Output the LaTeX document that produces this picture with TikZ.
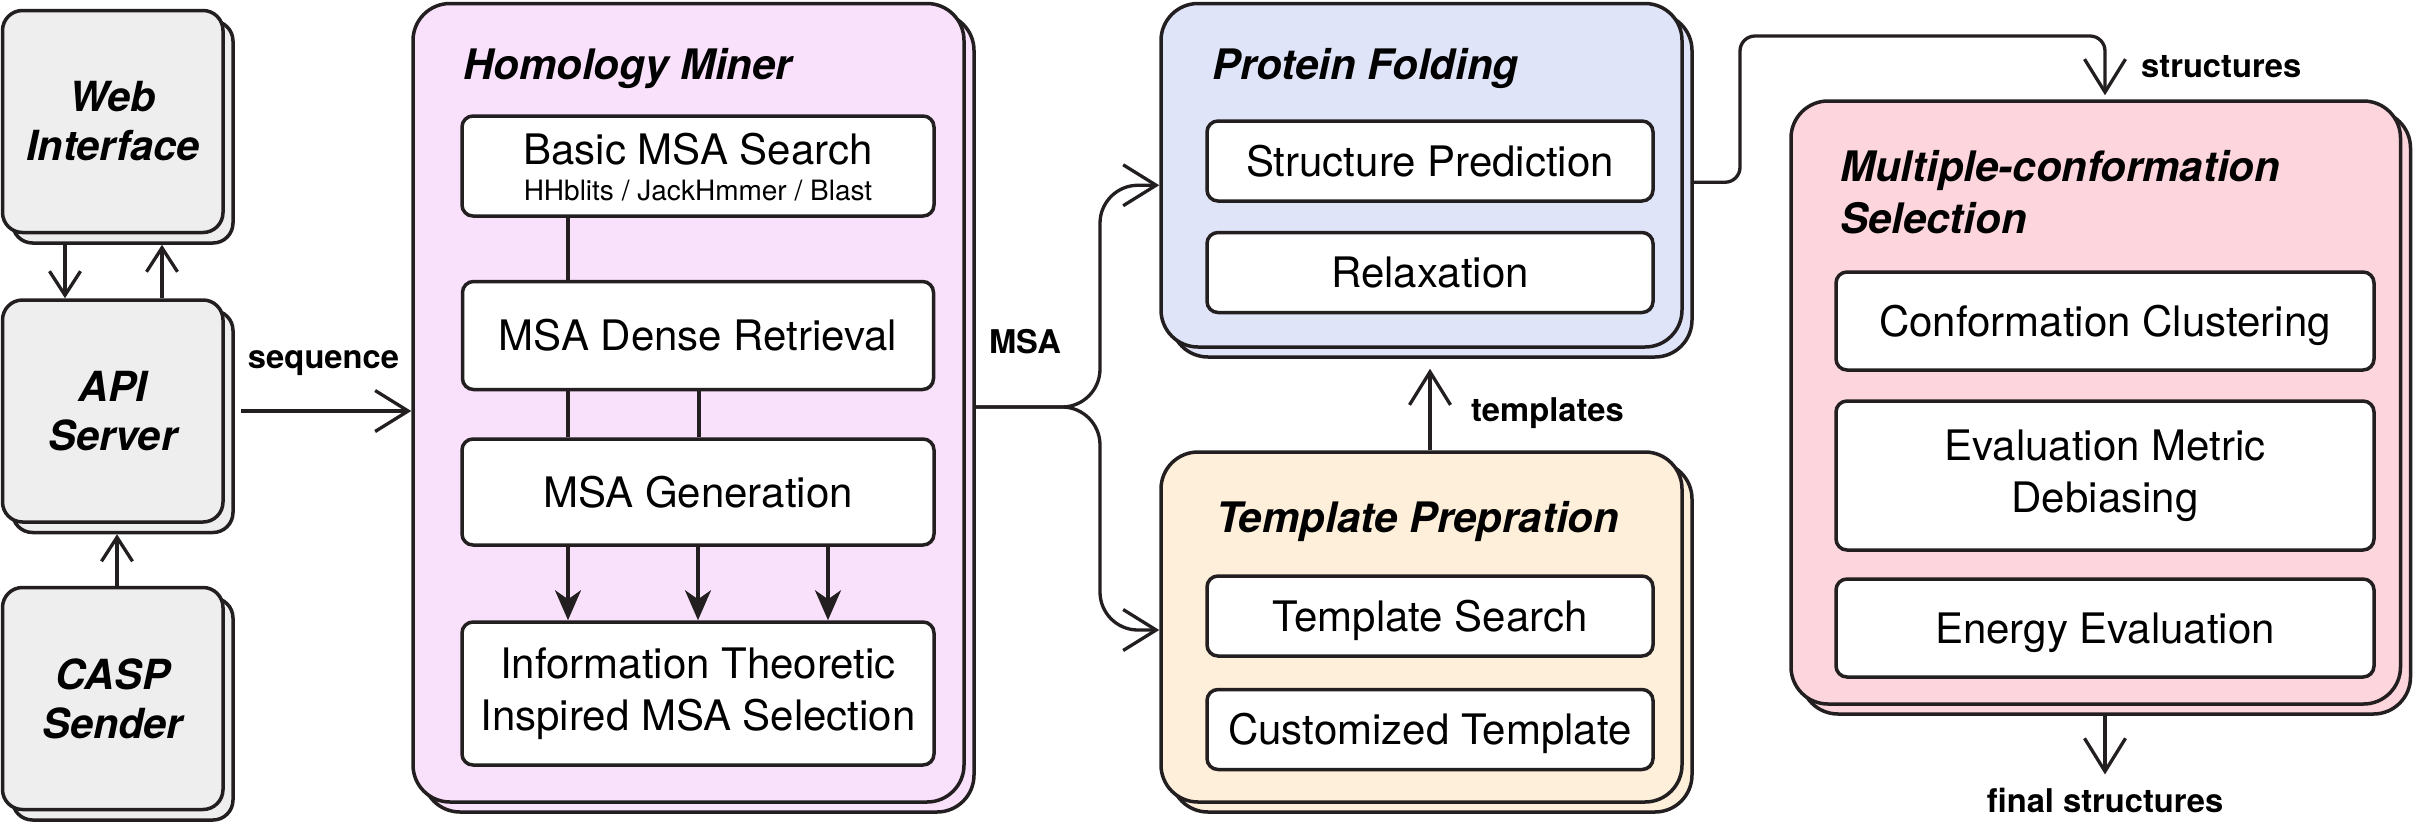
\documentclass[tikz,border=0pt]{standalone}
\usepackage{fontspec}
\setmainfont{TeX Gyre Heros}
\usetikzlibrary{arrows.meta}
\definecolor{ink}{HTML}{231F20}
\definecolor{grayfill}{HTML}{EEEEEE}
\definecolor{hmfill}{HTML}{F9E0FB}
\definecolor{pffill}{HTML}{DFE4F8}
\definecolor{tpfill}{HTML}{FDEFD9}
\definecolor{msfill}{HTML}{FCD6DC}
\begin{document}
\begin{tikzpicture}[x=1pt,y=1pt,
  lbox/.style={draw=ink, line width=3.5pt, rounded corners=20pt, fill=grayfill,
    minimum width=220.5pt, minimum height=222pt, inner sep=0pt, align=center,
    font=\fontsize{41.5}{49}\selectfont\bfseries\itshape,
    preaction={draw=ink, fill=grayfill, line width=3.5pt, transform canvas={xshift=10pt,yshift=-10.5pt}}},
  bigbox/.style={draw=ink, line width=3.5pt, rounded corners=37pt, fill=#1, inner sep=0pt,
    preaction={draw=ink, fill=#1, line width=3.5pt, transform canvas={xshift=10pt,yshift=-10pt}}},
  inbox/.style={draw=ink, fill=white, line width=3.5pt, rounded corners=11pt, inner sep=0pt,
    align=center, font=\fontsize{42}{52}\selectfont},
  oneline/.style={text height=30pt, text depth=0pt},
  ttl/.style={inner sep=0pt, font=\fontsize{42}{52}\selectfont\bfseries\itshape},
  lbl/.style={inner sep=0pt, font=\fontsize{32.7}{40}\selectfont\bfseries},
  conn/.style={draw=ink, line width=3.3pt},
  barb/.style={conn, -{Straight Barb[length=33pt,width=41pt]}},
  sbarb/.style={conn, -{Straight Barb[length=24pt,width=31pt]}},
  stl/.style={conn, -{Stealth[length=30pt,width=26pt,inset=9pt]}}
]
\useasboundingbox (0,0) rectangle (2413,-828);

% left column
\node[lbox] (web) at (112.75,-121.5) {Web\\Interface};
\node[lbox] (api) at (112.75,-411) {API\\Server};
\node[lbox] (casp) at (112.75,-698.5) {CASP\\Sender};

% Homology Miner
\node[bigbox=hmfill, minimum width=551pt, minimum height=798.5pt] (hm) at (688.5,-402.75) {};
\node[ttl, anchor=base west] (hmT) at (463,-79) {Homology Miner};
\node[inbox, minimum width=472pt, minimum height=100pt] (basic) at (698,-166) {};
\node[inner sep=0pt, anchor=base, font=\fontsize{42}{52}\selectfont] (basicA) at (698,-164) {Basic MSA Search};
\node[inner sep=0pt, anchor=base, font=\fontsize{28}{34}\selectfont] (basicB) at (698,-200) {HHblits / JackHmmer / Blast};
\node[inbox, oneline, minimum width=471pt, minimum height=108pt] (dense) at (698,-335.5) {MSA Dense Retrieval};
\node[inbox, oneline, minimum width=472pt, minimum height=106pt] (gen) at (698,-492) {MSA Generation};
\node[inbox, minimum width=472pt, minimum height=143pt] (info) at (698,-693.5) {Information Theoretic\\Inspired MSA Selection};

\draw[conn] ([xshift=-130pt]basic.south) -- ([xshift=-130pt]dense.north);
\draw[conn] ([xshift=-130pt]dense.south) -- ([xshift=-130pt]gen.north);
\draw[conn] ([xshift=1pt]dense.south) -- ([xshift=1pt]gen.north);
\foreach \dx in {-130,0,130}
  \draw[stl] ([xshift=\dx pt]gen.south) -- ([xshift=\dx pt]info.north);

% Protein Folding
\node[bigbox=pffill, minimum width=521pt, minimum height=343.5pt] (pf) at (1421.5,-175.25) {};
\node[ttl, anchor=base west] (pfT) at (1212,-79) {Protein Folding};
\node[inbox, oneline, minimum width=446pt, minimum height=80pt] (sp) at (1430,-161) {Structure Prediction};
\node[inbox, oneline, minimum width=446pt, minimum height=80pt] (rx) at (1430,-272.5) {Relaxation};

% Template Prepration
\node[bigbox=tpfill, minimum width=521pt, minimum height=350pt] (tp) at (1421.5,-627) {};
\node[ttl, anchor=base west] (tpT) at (1216,-532) {Template Prepration};
\node[inbox, oneline, minimum width=446pt, minimum height=80pt] (ts) at (1430,-616) {Template Search};
\node[inbox, oneline, minimum width=446pt, minimum height=80pt] (ct) at (1430,-729.5) {Customized Template};

% Multiple-conformation Selection
\node[bigbox=msfill, minimum width=609.5pt, minimum height=603pt] (ms) at (2095.75,-402.5) {};
\node[ttl, anchor=north west, align=left] (msT) at (1840,-149.8) {Multiple-conformation\\Selection};
\node[inbox, oneline, minimum width=538pt, minimum height=98pt] (conf) at (2105,-321) {Conformation Clustering};
\node[inbox, minimum width=538pt, minimum height=149pt] (eval) at (2105,-475.5) {Evaluation Metric\\Debiasing};
\node[inbox, oneline, minimum width=538pt, minimum height=98pt] (energy) at (2105,-628) {Energy Evaluation};

% connectors
\draw[sbarb] ([xshift=-47.75pt,yshift=-10.5pt]web.south) -- ([xshift=-47.75pt]api.north);
\draw[sbarb] ([xshift=49.25pt]api.north) -- ([xshift=49.25pt,yshift=-10.5pt]web.south);
\draw[sbarb] ([xshift=4.25pt]casp.north) -- ([xshift=4.25pt,yshift=-10.5pt]api.south);

\draw[barb] ([xshift=16pt]api.east) -- (api.east -| hm.west);
\node[lbl, anchor=base] (seqL) at (323.5,-368) {sequence};

\coordinate (msaS) at ([xshift=10pt,yshift=-4.25pt]hm.east);
\coordinate (msaJ) at (1100,-407);
\draw[barb, rounded corners=38pt] (msaS) -- (msaJ) |- ([yshift=-10pt]pf.west);
\draw[barb, rounded corners=38pt] (msaS) -- (msaJ) |- ([yshift=-3pt]tp.west);
\node[lbl, anchor=base] (msaL) at (1025,-353) {MSA};

\draw[barb] ([xshift=8.5pt]tp.north) -- ([xshift=8.5pt,yshift=-20pt]pf.south);
\node[lbl, anchor=base west] (tmplL) at (1471,-421) {templates};

\draw[barb, rounded corners=15pt] ([xshift=10pt,yshift=-7pt]pf.east) -| (1740,-36) -| ([xshift=9.25pt,yshift=4pt]ms.north);
\node[lbl, anchor=base west] (strL) at (2141,-77) {structures};

\node[lbl, anchor=base] (finL) at (2105,-812) {final structures};
\draw[barb] ([xshift=9.25pt,yshift=-10pt]ms.south) -- ([yshift=13pt]finL.north);
\end{tikzpicture}
\end{document}
